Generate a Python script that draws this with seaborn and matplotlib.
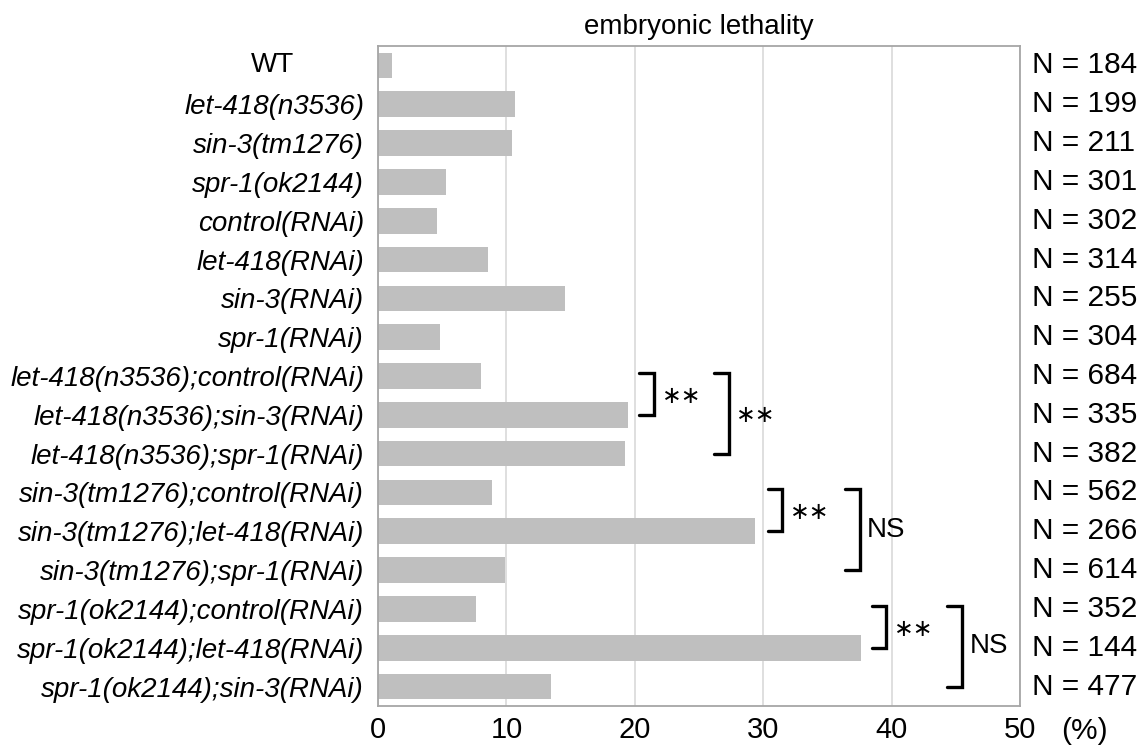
import matplotlib
matplotlib.use("Agg")
import matplotlib.pyplot as plt
import matplotlib.transforms as mtransforms
import seaborn as sns
import pandas as pd

genotypes = [
    "WT", "let-418(n3536)", "sin-3(tm1276)", "spr-1(ok2144)",
    "control(RNAi)", "let-418(RNAi)", "sin-3(RNAi)", "spr-1(RNAi)",
    "let-418(n3536);control(RNAi)", "let-418(n3536);sin-3(RNAi)",
    "let-418(n3536);spr-1(RNAi)", "sin-3(tm1276);control(RNAi)",
    "sin-3(tm1276);let-418(RNAi)", "sin-3(tm1276);spr-1(RNAi)",
    "spr-1(ok2144);control(RNAi)", "spr-1(ok2144);let-418(RNAi)",
    "spr-1(ok2144);sin-3(RNAi)",
]
lethality = [1.1, 10.7, 10.4, 5.3, 4.6, 8.6, 14.6, 4.8,
             8.0, 19.5, 19.2, 8.9, 29.4, 9.9, 7.6, 37.6, 13.5]
n_counts = [184, 199, 211, 301, 302, 314, 255, 304,
            684, 335, 382, 562, 266, 614, 352, 144, 477]
x_ticks = [0, 10, 20, 30, 40, 50]

# significance brackets: (first row, last row, x of bracket, label)
brackets = [
    (8, 9, 21.5, "∗∗"),
    (8, 10, 27.3, "∗∗"),
    (11, 12, 31.5, "∗∗"),
    (11, 13, 37.5, "NS"),
    (14, 15, 39.6, "∗∗"),
    (14, 16, 45.5, "NS"),
]

sns.set_theme(style="white")
plt.rcParams["font.family"] = ["Liberation Sans", "DejaVu Sans"]
plt.rcParams["text.color"] = "black"
plt.rcParams["xtick.color"] = "black"
plt.rcParams["ytick.color"] = "black"
plt.rcParams["xtick.labelcolor"] = "black"
plt.rcParams["ytick.labelcolor"] = "black"

df = pd.DataFrame({"genotype": genotypes, "lethality": lethality})

fig = plt.figure(figsize=(11.46, 7.46), dpi=100)
ax = fig.add_axes([378 / 1146, 1 - 706 / 746, (1020 - 378) / 1146, (706 - 46) / 746])

sns.barplot(data=df, x="lethality", y="genotype", orient="h", color="#bfbfbf",
            saturation=1, width=0.66, ax=ax, edgecolor="none")

ax.set_xlim(0, 50)
ax.set_xticks(x_ticks)
ax.set_xticklabels([str(t) for t in x_ticks], fontsize=21)
ax.xaxis.grid(True, color="#d9d9d9", linewidth=1.2)
ax.set_axisbelow(True)
ax.tick_params(axis="x", length=0, pad=7)
ax.tick_params(axis="y", length=0, pad=10)
ax.set_xlabel("")
ax.set_ylabel("")
for s in ax.spines.values():
    s.set_color("#a6a6a6")
    s.set_linewidth(1.3)

labels = ["" if g == "WT" else g for g in genotypes]
ax.set_yticks(range(len(genotypes)))
ax.set_yticklabels(labels, fontsize=20, fontstyle="italic")
ax.text(-8.2, 0, "WT", fontsize=20, ha="center", va="center")

ax.set_title("embryonic lethality", fontsize=20, pad=9)

blend = mtransforms.blended_transform_factory(ax.transAxes, ax.transData)
for i, n in enumerate(n_counts):
    ax.text(1.018, i, f"N = {n}", transform=blend, fontsize=21.5,
            ha="left", va="center")

ax.text(55.0, -0.016, "(%)",
        transform=mtransforms.blended_transform_factory(ax.transData, ax.transAxes),
        fontsize=21.5, ha="center", va="top")

arm = 1.15
for r0, r1, xb, lab in brackets:
    y0 = r0 - 0.08
    y1 = r1
    ax.plot([xb - arm, xb, xb, xb - arm], [y0, y0, y1, y1], color="black",
            linewidth=2.4, solid_joinstyle="miter", clip_on=False)
    ym = (y0 + y1) / 2
    if lab == "NS":
        ax.text(xb + 0.6, ym, lab, fontsize=20, ha="left", va="center")
    else:
        ax.text(xb + 0.6, ym + 0.05, lab, fontsize=17, ha="left", va="center",
                family=["DejaVu Sans"])

ax.set_ylim(len(genotypes) - 0.5, -0.5)

fig.savefig("out.png", dpi=100)
